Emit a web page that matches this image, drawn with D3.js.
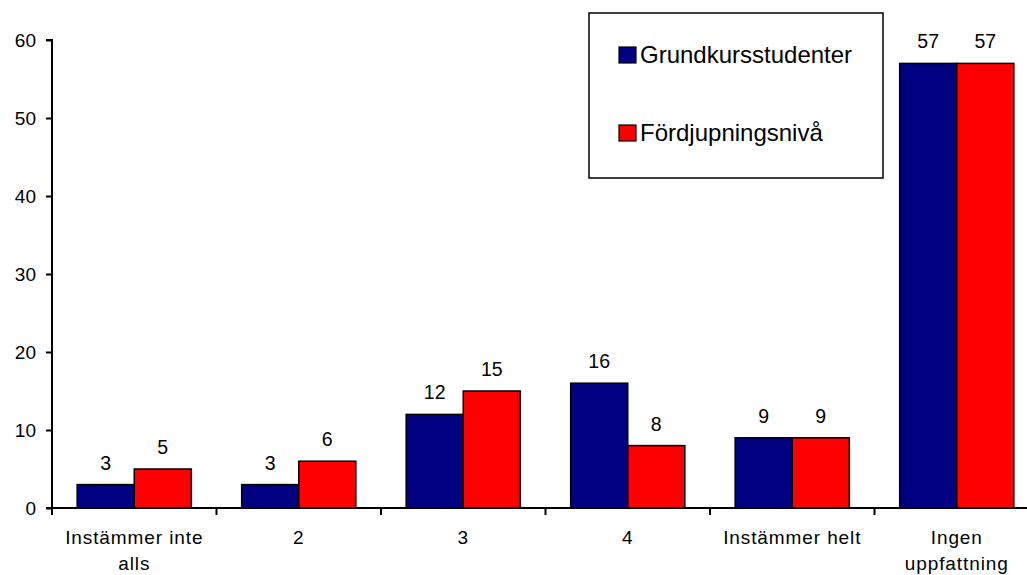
<!DOCTYPE html>
<html><head><meta charset="utf-8">
<script src="https://cdn.jsdelivr.net/npm/d3@7"></script>
<style>body{margin:0;background:#fff}svg{display:block;font-family:"Liberation Sans",Arial,sans-serif}</style>
</head><body><svg id="c" width="1027" height="575"></svg>
<script>
const categories = [["Instämmer inte","alls"],["2"],["3"],["4"],["Instämmer helt"],["Ingen","uppfattning"]];
const seriesNames = ["Grundkursstudenter","Fördjupningsnivå"];
const grund = [3,3,12,16,9,57];
const fordj = [5,6,15,8,9,57];
const colors = ["#000080","#FF0000"];
const yTicks = [0,10,20,30,40,50,60];

const svg = d3.select("#c");
const mLeft = 52, mRight = 1039, mTop = 40, mBottom = 508;
const idx = d3.range(categories.length);
const x = d3.scaleBand().domain(idx).range([mLeft,mRight]).paddingInner(0.306).paddingOuter(0.153);
const xBand = d3.scaleBand().domain(idx).range([mLeft,mRight]);
const xs = d3.scaleBand().domain([0,1]).range([0,x.bandwidth()]);
const y = d3.scaleLinear().domain([0,60]).range([mBottom,mTop]);

// bars
const series = [grund,fordj];
series.forEach((vals,s)=>{
  svg.append("g").selectAll("rect").data(vals).join("rect")
    .attr("x",(d,i)=>x(i)+xs(s)).attr("y",d=>y(d))
    .attr("width",xs.bandwidth()).attr("height",d=>y(0)-y(d))
    .attr("fill",colors[s]).attr("stroke","#000").attr("stroke-width",1.5);
  svg.append("g").selectAll("text").data(vals).join("text")
    .attr("x",(d,i)=>x(i)+xs(s)+xs.bandwidth()/2).attr("y",d=>y(d)-15)
    .attr("text-anchor","middle").attr("font-size",19.5).text(d=>d);
});

// y axis
const ya = svg.append("g").attr("transform",`translate(${mLeft},0)`)
  .call(d3.axisLeft(y).tickValues(yTicks).tickSize(6).tickPadding(10));
ya.select(".domain").attr("stroke","#000").attr("stroke-width",2).attr("d",`M-6,${mTop}H0V${mBottom}`);
ya.selectAll(".tick line").attr("stroke","#000").attr("stroke-width",2);
ya.selectAll(".tick text").attr("font-size",19).attr("fill","#000").attr("font-family","Liberation Sans, Arial, sans-serif");

// x axis
svg.append("line").attr("x1",mLeft-6).attr("x2",1027).attr("y1",mBottom).attr("y2",mBottom).attr("stroke","#000").attr("stroke-width",2);
svg.append("g").selectAll("line").data(idx).join("line")
  .attr("x1",i=>xBand(i)).attr("x2",i=>xBand(i)).attr("y1",mBottom).attr("y2",mBottom+7)
  .attr("stroke","#000").attr("stroke-width",2);
const lab = svg.append("g").selectAll("text").data(categories).join("text")
  .attr("text-anchor","middle").attr("font-size",19).attr("letter-spacing",0.9)
  .attr("transform",(d,i)=>`translate(${x(i)+x.bandwidth()/2},${mBottom+36})`);
lab.selectAll("tspan").data(d=>d).join("tspan").attr("x",0).attr("dy",(d,j)=>j?26:0).text(d=>d);

// legend
const lg = svg.append("g");
lg.append("rect").attr("x",589).attr("y",13).attr("width",294).attr("height",165).attr("fill","#fff").attr("stroke","#000").attr("stroke-width",1.5);
const ly = [55,133];
seriesNames.forEach((n,s)=>{
  lg.append("rect").attr("x",619).attr("y",ly[s]-8).attr("width",17).attr("height",16).attr("fill",colors[s]).attr("stroke","#000").attr("stroke-width",1.2);
  lg.append("text").attr("x",640).attr("y",ly[s]+8).attr("font-size",24).text(n);
});
</script></body></html>
